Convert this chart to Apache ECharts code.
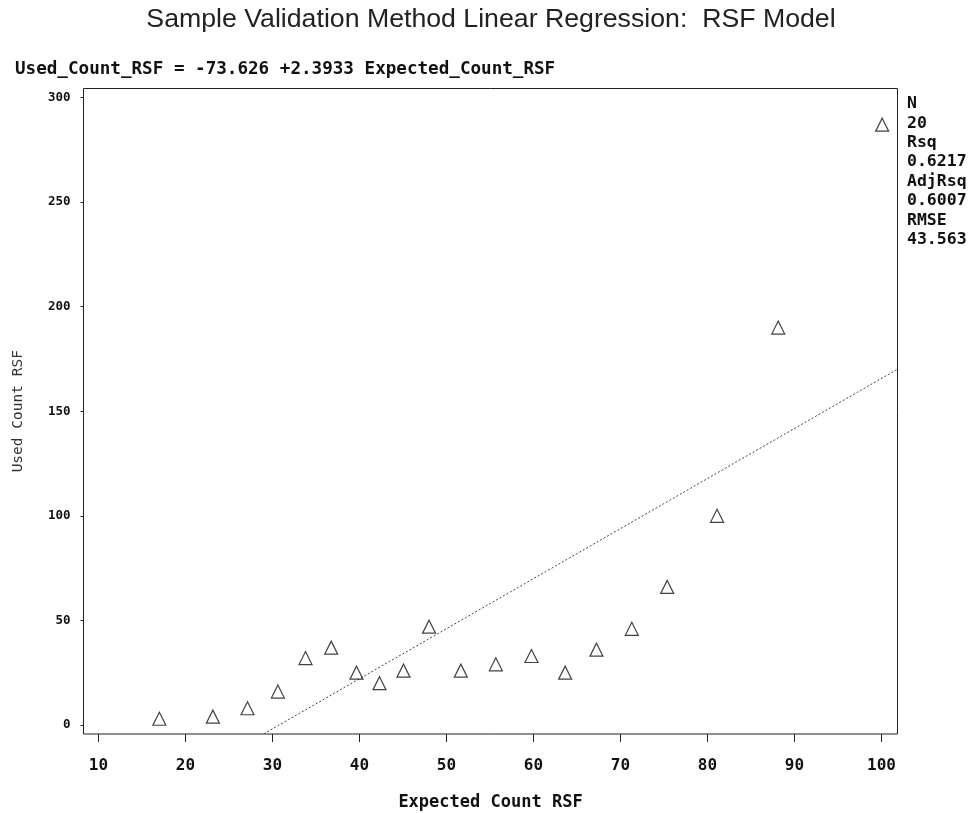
<!DOCTYPE html>
<html>
<head>
<meta charset="utf-8">
<script src="https://cdn.jsdelivr.net/npm/echarts@6/dist/echarts.min.js"></script>
<style>
  html, body { margin: 0; padding: 0; background: #fff; }
  #chart { width: 977px; height: 813px; }
</style>
</head>
<body>
<div id="chart"></div>
<script>
// observed points (Expected_Count_RSF, Used_Count_RSF)
const expectedCount = [17.0, 23.15, 27.13, 30.62, 33.8, 36.75, 39.66, 42.3, 45.06, 48.0,
  51.65, 55.67, 59.77, 63.64, 67.24, 71.3, 75.37, 81.1, 88.13, 100.08];
const usedCount = [3, 4, 8, 16, 32, 37, 25, 20, 26, 47,
  26, 29, 33, 25, 36, 46, 66, 100, 190, 287];

// fitted line from the model output
const intercept = -73.626;
const slope = 2.3933;

const xTicks = [10, 20, 30, 40, 50, 60, 70, 80, 90, 100];
const yTicks = [0, 50, 100, 150, 200, 250, 300];
const X_MIN = 8.28, X_MAX = 101.84;
const Y_MIN = -4.3, Y_MAX = 304.3;

const statLabels = ['N', 'Rsq', 'AdjRsq', 'RMSE'];
const statValues = ['20', '0.6217', '0.6007', '43.563'];

const MONO = '"DejaVu Sans Mono", monospace';
const INK = '#111';

const points = expectedCount.map((x, i) => [x, usedCount[i]]);
const fitLine = [X_MIN, X_MAX].map((x) => [x, intercept + slope * x]);

const statTexts = [];
statLabels.forEach((lab, i) => {
  statTexts.push(lab, statValues[i]);
});

const chart = echarts.init(document.getElementById('chart'), null, { renderer: 'canvas' });

chart.setOption({
  animation: false,
  backgroundColor: '#fff',
  grid: {
    left: 83.5,
    right: 79.5,
    top: 88.5,
    bottom: 79,
    outerBoundsMode: 'none',
    show: true,
    borderColor: '#222',
    borderWidth: 1,
    backgroundColor: 'transparent',
  },
  xAxis: {
    type: 'value',
    min: X_MIN,
    max: X_MAX,
    name: 'Expected Count RSF',
    nameLocation: 'middle',
    nameGap: 60,
    nameTextStyle: { fontFamily: MONO, fontWeight: 'bold', fontSize: 17, color: INK },
    axisLine: { show: false, onZero: false },
    axisTick: { show: true, length: 8, customValues: xTicks, lineStyle: { color: '#222' } },
    axisLabel: {
      customValues: xTicks,
      margin: 24,
      fontFamily: MONO,
      fontWeight: 'bold',
      fontSize: 16,
      color: INK,
    },
    splitLine: { show: false },
  },
  yAxis: {
    type: 'value',
    min: Y_MIN,
    max: Y_MAX,
    name: 'Used Count RSF',
    nameLocation: 'middle',
    nameGap: 58,
    nameRotate: 90,
    nameTextStyle: { fontFamily: MONO, fontSize: 14.5, color: '#333' },
    axisLine: { show: false, onZero: false },
    axisTick: { show: true, length: 3, customValues: yTicks, lineStyle: { color: '#222' } },
    axisLabel: {
      customValues: yTicks,
      margin: 13,
      fontFamily: MONO,
      fontWeight: 'bold',
      fontSize: 12.5,
      color: INK,
    },
    splitLine: { show: false },
  },
  series: [
    {
      type: 'line',
      data: fitLine,
      showSymbol: false,
      clip: true,
      lineStyle: { color: '#444', width: 1, type: [2, 2] },
      z: 1,
    },
    {
      type: 'scatter',
      data: points,
      symbol: 'triangle',
      symbolSize: 13,
      itemStyle: { color: 'rgba(0,0,0,0)', borderColor: '#111', borderWidth: 1.2 },
      z: 2,
    },
  ],
  graphic: [
    {
      type: 'text',
      x: 491,
      y: 20,
      style: {
        text: 'Sample Validation Method Linear Regression:  RSF Model',
        font: '26.7px "Liberation Sans", Arial, sans-serif',
        fill: '#222',
        textAlign: 'center',
        textVerticalAlign: 'middle',
      },
    },
    {
      type: 'text',
      x: 15,
      y: 69,
      style: {
        text: 'Used_Count_RSF = ' + intercept + ' +' + slope + ' Expected_Count_RSF',
        font: 'bold 17.6px ' + MONO,
        fill: INK,
        textAlign: 'left',
        textVerticalAlign: 'middle',
      },
    },
    ...statTexts.map((t, i) => ({
      type: 'text',
      x: 907,
      y: 104 + i * 19.4,
      style: {
        text: t,
        font: 'bold 16.5px ' + MONO,
        fill: INK,
        textAlign: 'left',
        textVerticalAlign: 'middle',
      },
    })),
  ],
});
</script>
</body>
</html>
